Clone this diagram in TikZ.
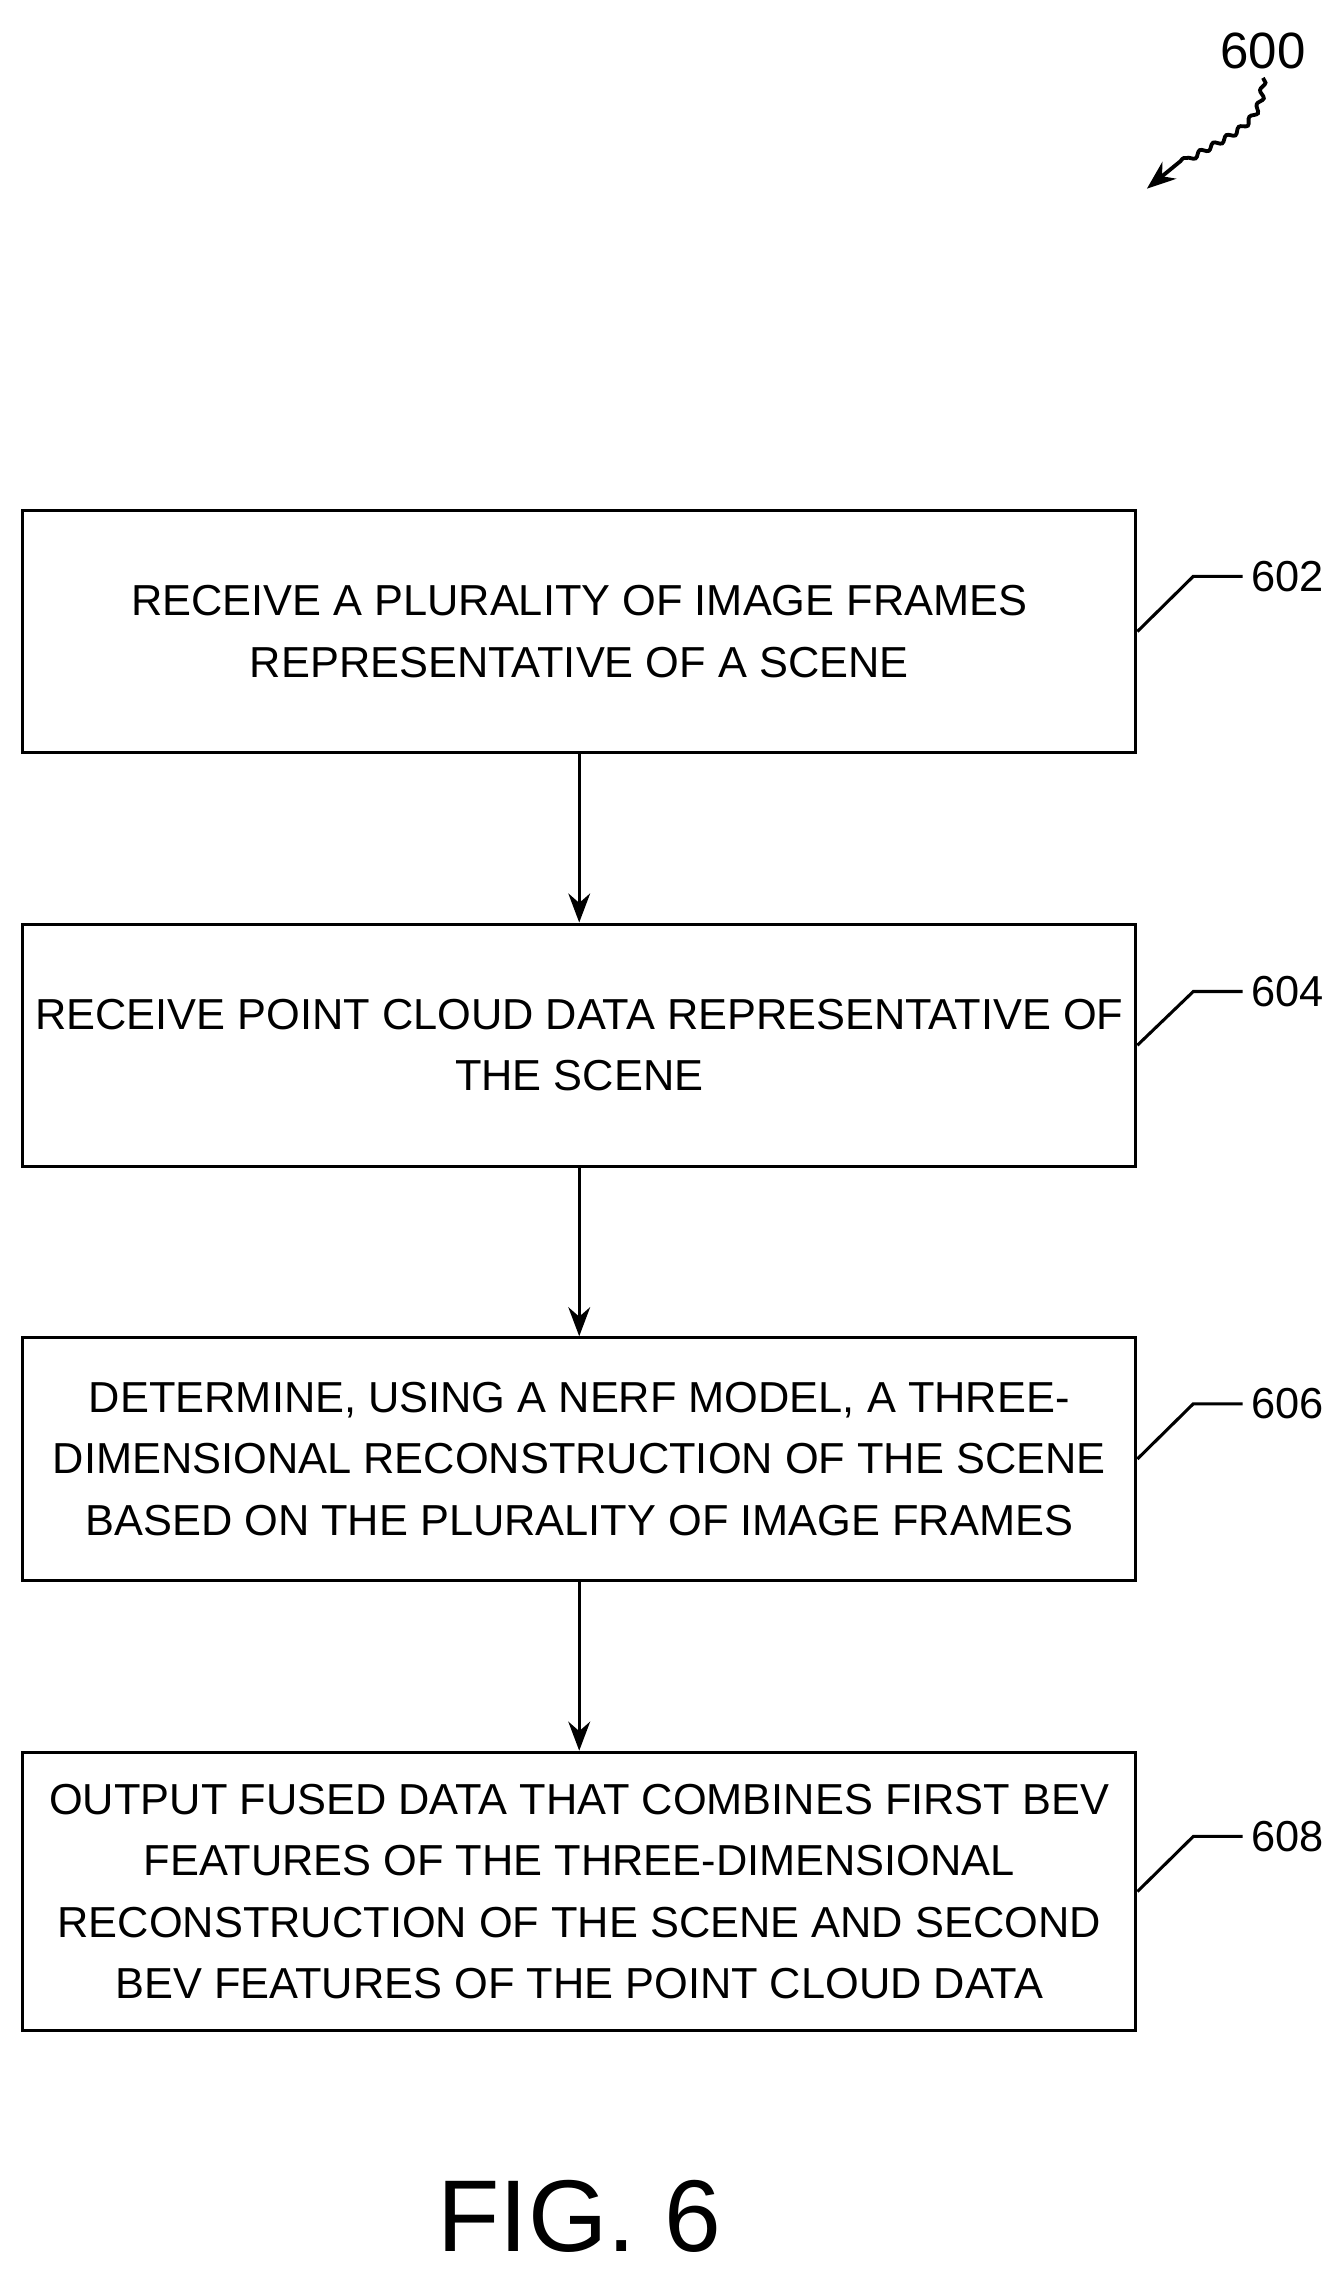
\documentclass[tikz,border=0pt]{standalone}
\usepackage{fontspec}
\setmainfont{Liberation Sans}
\usetikzlibrary{positioning,arrows.meta,decorations.pathmorphing}

\begin{document}
\begin{tikzpicture}[
    x=0.02cm, y=-0.02cm,
    box/.style={draw, line width=1.2pt, minimum width=15.34cm, minimum height=3.34cm, align=center, font=\fontsize{17}{24}\selectfont},
    ref/.style={font=\fontsize{17}{20}\selectfont, anchor=west},
    lead/.style={line width=1.2pt},
    flow/.style={line width=1.2pt, -{Stealth[length=4mm, width=3mm]}},
]
\useasboundingbox (0,0) rectangle (918,1563);

% Figure number
\node[font=\fontsize{20}{22}\selectfont] (fignum) at (870,35) {600};
\coordinate (tip) at (790,130);
\draw[line width=1.5pt, decorate, decoration={snake, amplitude=1pt, segment length=6pt, post length=6mm}, -{Stealth[length=4mm, width=3mm]}]
    (fignum.south) .. controls (870,95) and (830,90) .. (tip);

% Steps
\node[box] (s602) at (399,435) {RECEIVE A PLURALITY OF IMAGE FRAMES\\REPRESENTATIVE OF A SCENE};
\node[box] (s604) at (399,720) {RECEIVE POINT CLOUD DATA REPRESENTATIVE OF\\THE SCENE};
\node[box] (s606) at (399,1005) {DETERMINE, USING A NERF MODEL, A THREE-\\DIMENSIONAL RECONSTRUCTION OF THE SCENE\\BASED ON THE PLURALITY OF IMAGE FRAMES};
\node[box, minimum height=3.84cm] (s608) at (399,1303) {OUTPUT FUSED DATA THAT COMBINES FIRST BEV\\FEATURES OF THE THREE-DIMENSIONAL\\RECONSTRUCTION OF THE SCENE AND SECOND\\BEV FEATURES OF THE POINT CLOUD DATA};

% Arrows
\draw[flow] (s602) -- (s604);
\draw[flow] (s604) -- (s606);
\draw[flow] (s606) -- (s608);

% Reference labels
\node[ref] (l602) at (856,397) {602};
\node[ref] (l604) at (856,683) {604};
\node[ref] (l606) at (856,967) {606};
\node[ref] (l608) at (856,1265) {608};
\draw[lead] (s602.east) -- (822,397) -- (l602.west);
\draw[lead] (s604.east) -- (822,683) -- (l604.west);
\draw[lead] (s606.east) -- (822,967) -- (l606.west);
\draw[lead] (s608.east) -- (822,1265) -- (l608.west);

% Caption
\node[font=\fontsize{40}{44}\selectfont] (caption) at (399,1527) {FIG. 6};
\end{tikzpicture}
\end{document}
